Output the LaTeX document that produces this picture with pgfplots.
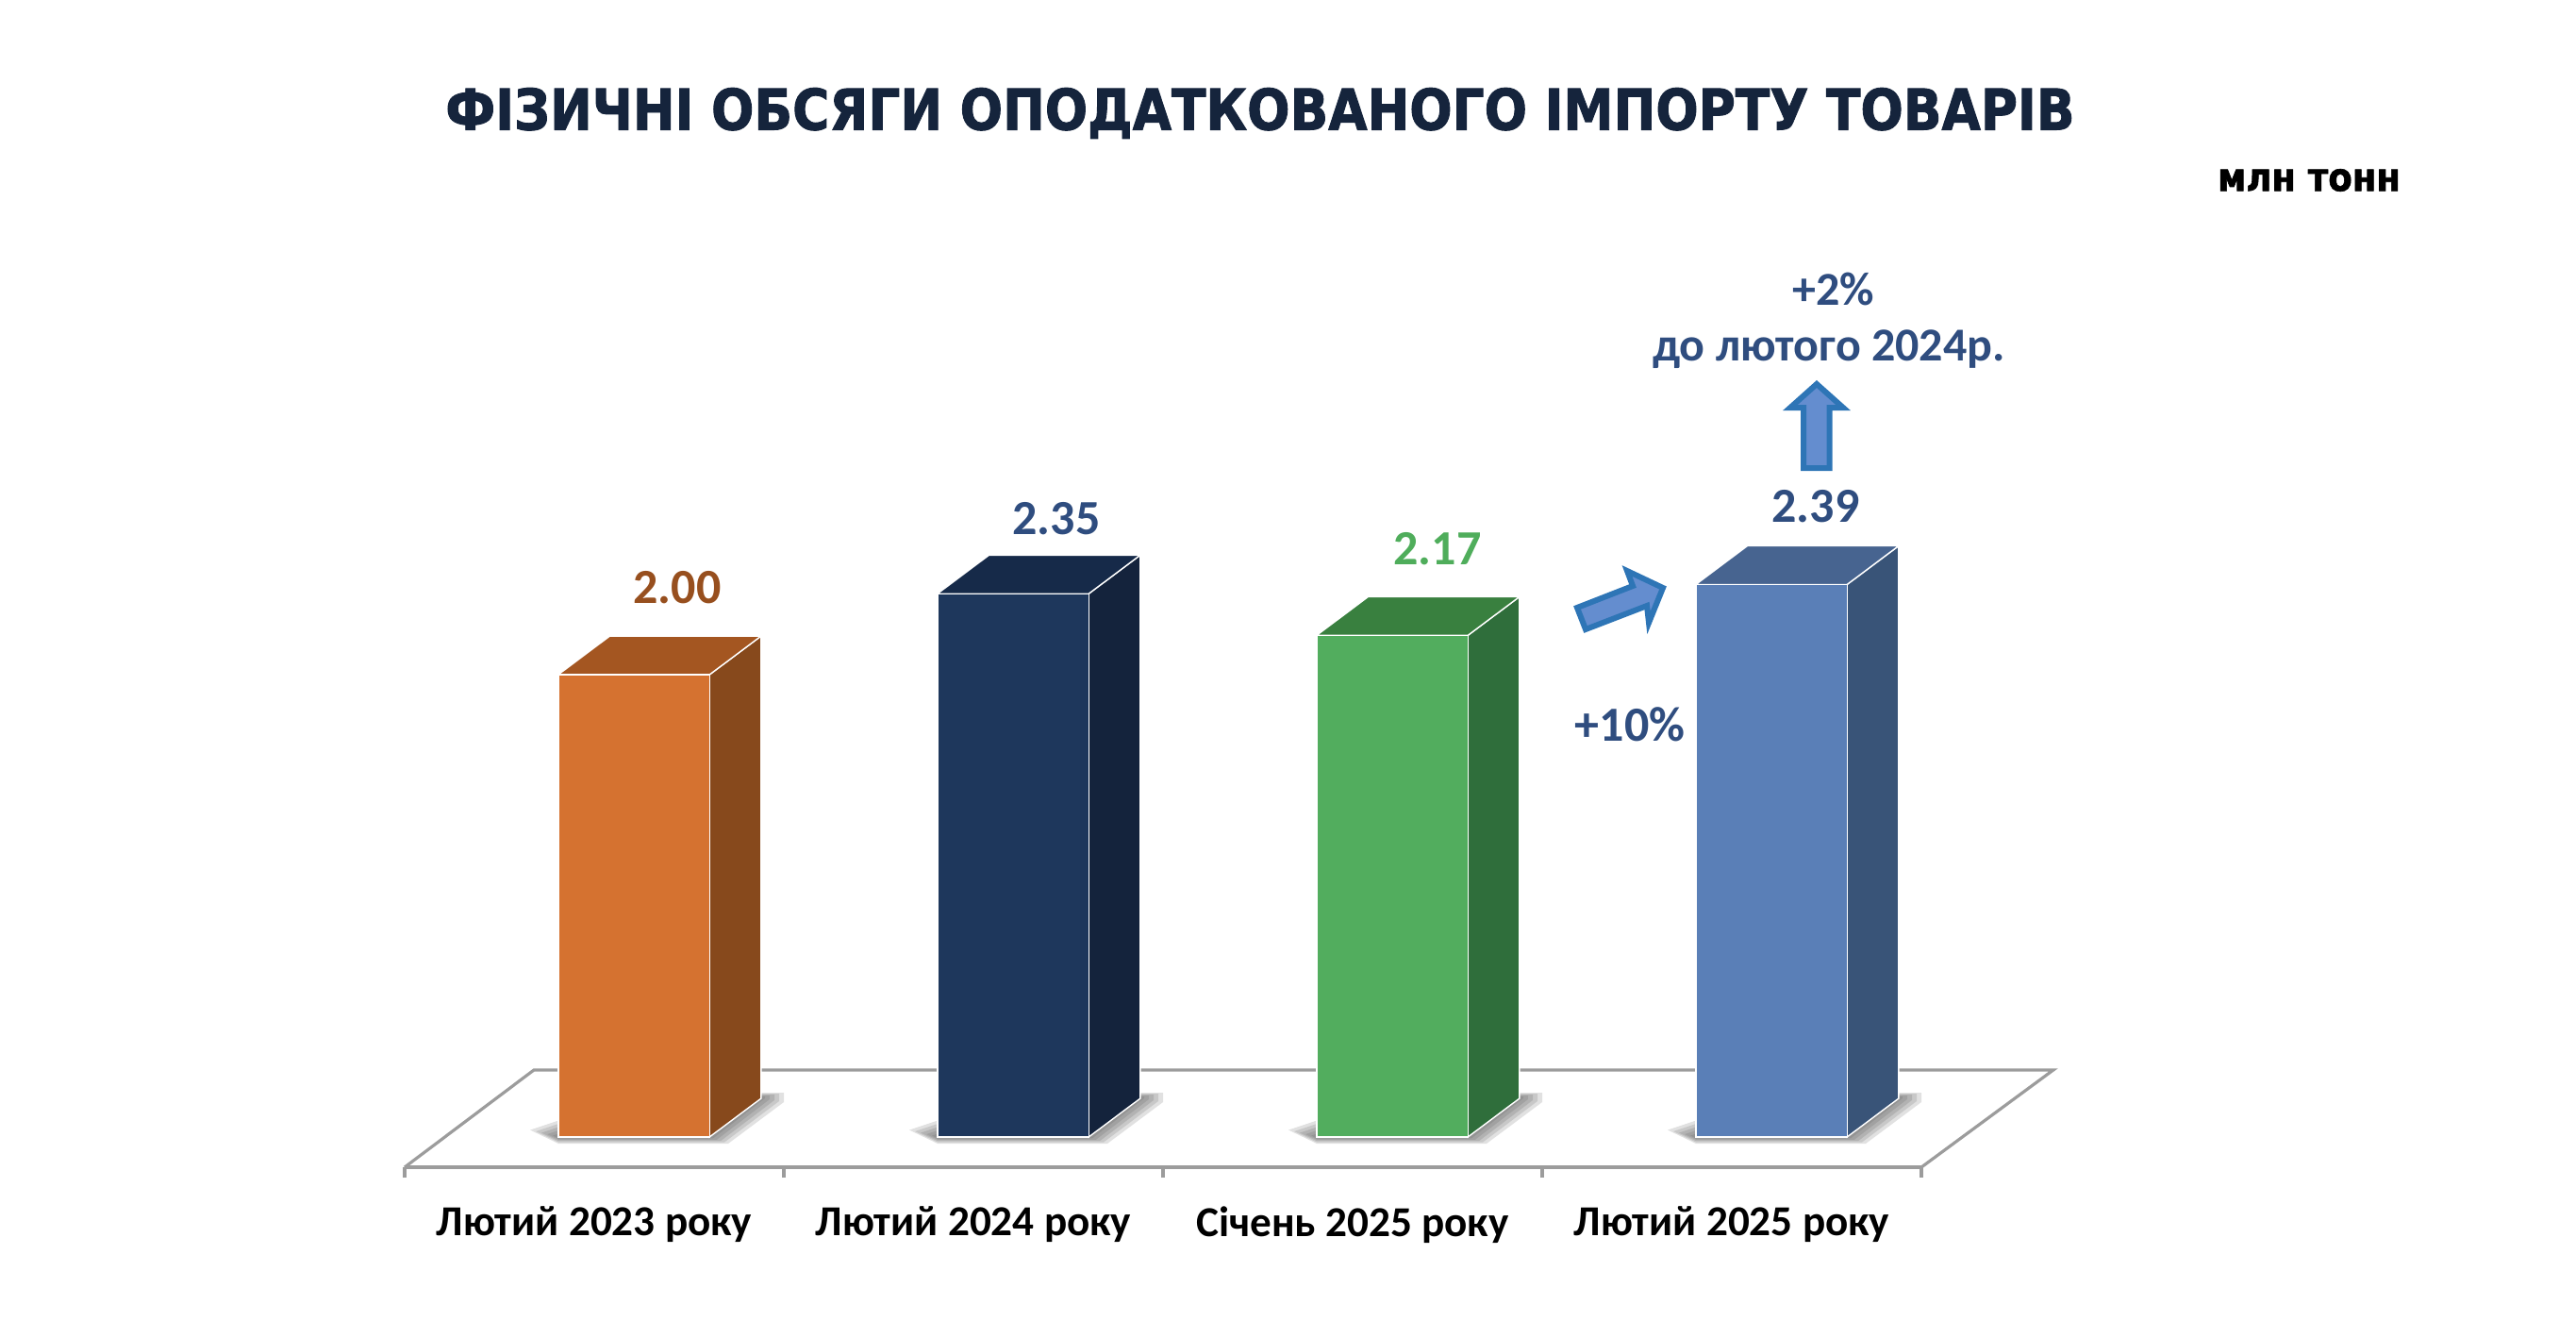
\documentclass[border=0pt]{standalone}
\usepackage{fontspec}
\setmainfont{Carlito}
\newfontfamily\headfont[BoldFeatures={FakeStretch=0.89,FakeBold=1.5}]{DejaVu Sans}
\usepackage{pgfplots}
\pgfplotsset{compat=1.18}

% one reference pixel = 0.25pt
\definecolor{floorgray}{HTML}{9C9C9C}
\definecolor{headnavy}{HTML}{15243C}
\definecolor{labblue}{HTML}{2F4D7F}
\definecolor{laborange}{HTML}{974F1E}
\definecolor{labgreen}{HTML}{4FAD5B}
\definecolor{arrowline}{HTML}{2E75B6}
\definecolor{arrowfill}{HTML}{648DCF}
\definecolor{ofront}{HTML}{D57230}\definecolor{oside}{HTML}{87491C}\definecolor{otop}{HTML}{A45621}
\definecolor{nfront}{HTML}{1E375C}\definecolor{nside}{HTML}{14233C}\definecolor{ntop}{HTML}{162A49}
\definecolor{gfront}{HTML}{52AD5E}\definecolor{gside}{HTML}{2F6E3B}\definecolor{gtop}{HTML}{39803F}
\definecolor{bfront}{HTML}{5A7FB7}\definecolor{bside}{HTML}{395478}\definecolor{btop}{HTML}{476490}

% soft shadow layer: #1 = bar centre, #2 = layer
\newcommand\shadowlayer[2]{%
  \fill[black!70,opacity=0.17] (axis cs:#1,0)
    ++({(-80-6*#2)*0.25pt},{(1.5*#2)*0.25pt})
    -- ++({(6*#2)*0.25pt},{(-2.9*#2)*0.25pt})
    -- ++({(160+4*#2)*0.25pt},0pt)
    -- ++({(54+#2)*0.25pt},{(42+0.4*#2)*0.25pt})
    -- ++(0pt,{(2*#2)*0.25pt})
    -- ++({(-54-5*#2)*0.25pt},0pt)
    -- ++({-160*0.25pt},{(-42+2.5*#2)*0.25pt})
    -- cycle;}
\newcommand\barshadow[1]{\shadowlayer{#1}{5}\shadowlayer{#1}{4}\shadowlayer{#1}{3}\shadowlayer{#1}{2}\shadowlayer{#1}{1}}

\begin{document}
\begin{tikzpicture}
\useasboundingbox (0,0) rectangle (682.75pt,354.25pt);
\begin{axis}[
    at={(107.25pt,45pt)}, anchor=south west,
    scale only axis, width=402pt, height=216.25pt,
    xmin=-0.5, xmax=3.5, ymin=-0.1306, ymax=3.4,
    clip=false,
    axis x line=bottom, axis y line=none,
    axis line style={-,floorgray,line width=0.8pt},
    xtick={-0.5,0.5,1.5,2.5,3.5},
    xticklabels={},
    tick align=outside,
    major tick length=2.75pt,
    tick style={floorgray,line width=0.8pt},
    extra x ticks={0,1,2,3},
    extra x tick labels={Лютий 2023 року,Лютий 2024 року,Січень 2025 року,Лютий 2025 року},
    extra x tick style={major tick length=0pt,
      tick label style={font=\fontsize{11.3}{13}\selectfont\bfseries,text=black,yshift=-6.8pt}},
]
  % floor
  \addplot[floorgray,line width=0.8pt,forget plot] coordinates {
    (-0.5,-0.1306) (-0.159,0.29) (3.848,0.29) (3.5,-0.1306)};

  % shadows
  \barshadow{0.1045}\barshadow{1.1045}\barshadow{2.1045}\barshadow{3.1045}

  % side and top faces, then front
  \addplot[fill=oside,draw=white,line width=0.35pt] coordinates {(0.304,0) (0.44,0.167) (0.44,2.167) (0.304,2.00)} -- cycle;
  \addplot[fill=otop,draw=white,line width=0.35pt] coordinates {(-0.095,2.00) (0.041,2.167) (0.44,2.167) (0.304,2.00)} -- cycle;
  \addplot[ybar,bar shift=0pt,bar width=0.399,fill=ofront,draw=white,line width=0.35pt] coordinates {(0.1045,2.00)};

  \addplot[fill=nside,draw=white,line width=0.35pt] coordinates {(1.304,0) (1.44,0.167) (1.44,2.517) (1.304,2.35)} -- cycle;
  \addplot[fill=ntop,draw=white,line width=0.35pt] coordinates {(0.905,2.35) (1.041,2.517) (1.44,2.517) (1.304,2.35)} -- cycle;
  \addplot[ybar,bar shift=0pt,bar width=0.399,fill=nfront,draw=white,line width=0.35pt] coordinates {(1.1045,2.35)};

  \addplot[fill=gside,draw=white,line width=0.35pt] coordinates {(2.304,0) (2.44,0.167) (2.44,2.337) (2.304,2.17)} -- cycle;
  \addplot[fill=gtop,draw=white,line width=0.35pt] coordinates {(1.905,2.17) (2.041,2.337) (2.44,2.337) (2.304,2.17)} -- cycle;
  \addplot[ybar,bar shift=0pt,bar width=0.399,fill=gfront,draw=white,line width=0.35pt] coordinates {(2.1045,2.17)};

  \addplot[fill=bside,draw=white,line width=0.35pt] coordinates {(3.304,0) (3.44,0.167) (3.44,2.557) (3.304,2.39)} -- cycle;
  \addplot[fill=btop,draw=white,line width=0.35pt] coordinates {(2.905,2.39) (3.041,2.557) (3.44,2.557) (3.304,2.39)} -- cycle;
  \addplot[ybar,bar shift=0pt,bar width=0.399,fill=bfront,draw=white,line width=0.35pt] coordinates {(3.1045,2.39)};
\end{axis}

\begin{scope}[shift={(0pt,354.25pt)},x=0.25pt,y=-0.25pt]
% title and unit
\node[font=\headfont\fontsize{15}{18}\selectfont\bfseries,text=headnavy] at (1336,120) {ФІЗИЧНІ ОБСЯГИ ОПОДАТКОВАНОГО ІМПОРТУ ТОВАРІВ};
\node[font=\headfont\fontsize{10.4}{12}\selectfont\bfseries,text=black] at (2448,191) {млн тонн};

% value labels
\node[font=\fontsize{13}{15}\selectfont\bfseries,text=laborange] at (718,623) {2.00};
\node[font=\fontsize{13}{15}\selectfont\bfseries,text=labblue] at (1120,550) {2.35};
\node[font=\fontsize{13}{15}\selectfont\bfseries,text=labgreen] at (1524,582) {2.17};
\node[font=\fontsize{13}{15}\selectfont\bfseries,text=labblue] at (1925,537) {2.39};

% annotations
\node[font=\fontsize{12.5}{15}\selectfont\bfseries,text=labblue] at (1944,306) {+2\%};
\node[font=\fontsize{12.5}{15}\selectfont\bfseries,text=labblue] at (1939,370) {до лютого 2024р.};
\node[font=\fontsize{13}{15}\selectfont\bfseries,text=labblue] at (1728,768) {+10\%};

% arrows
\draw[arrowline,fill=arrowfill,line width=1.5pt,miter limit=10]
  (1926,407) -- (1954,432) -- (1939.5,432) -- (1939.5,496) -- (1912,496) -- (1912,432) -- (1898,432) -- cycle;
\draw[arrowline,fill=arrowfill,line width=1.5pt,miter limit=10]
  (1672,644) -- (1681,667) -- (1746,642) -- (1748,660) -- (1763,623) -- (1725,605) -- (1731,621) -- cycle;
\end{scope}
\end{tikzpicture}
\end{document}
